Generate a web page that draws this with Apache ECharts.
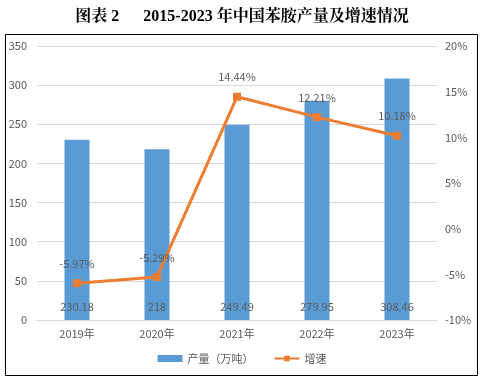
<!DOCTYPE html>
<html><head><meta charset="utf-8">
<script src="https://cdn.jsdelivr.net/npm/echarts@6/dist/echarts.min.js"></script>
<style>html,body{margin:0;padding:0;background:#fff}#c{width:484px;height:380px}</style>
</head><body><div id="c"></div>
<script>
var categories = ['2019年','2020年','2021年','2022年','2023年'];
var output = [230.18, 218, 249.49, 279.95, 308.46];
var growth = [-5.97, -5.29, 14.44, 12.21, 10.18];
var leftTicks = [0, 350, 50];
var rightTicks = [-10, 20, 5];

var font = '"Noto Sans CJK SC", "DejaVu Sans", sans-serif';
var chart = echarts.init(document.getElementById('c'), null, {renderer:'canvas'});
chart.setOption({
  animation:false,
  backgroundColor:'#fff',
  title:{
    text:'图表 2      2015-2023 年中国苯胺产量及增速情况',
    left:'center', top:4,
    textStyle:{fontFamily:'"Liberation Serif", "Noto Serif CJK SC", "Noto Sans CJK SC", serif', fontWeight:'bold', fontSize:16, color:'#000'}
  },
  graphic:[{type:'rect', shape:{x:5.5,y:34.5,width:472,height:341}, style:{fill:'none', stroke:'#000', lineWidth:1}, silent:true}],
  grid:{left:37, right:47, top:46, bottom:60},
  legend:{
    bottom:11, left:'center', itemGap:20,
    textStyle:{fontFamily:font, fontSize:11, color:'#595959'},
    data:[{name:'产量（万吨）', icon:'rect'},{name:'增速'}],
    itemWidth:25, itemHeight:7
  },
  xAxis:{
    type:'category', data:categories,
    axisLine:{lineStyle:{color:'#d9d9d9'}}, axisTick:{show:false},
    axisLabel:{fontFamily:font, fontSize:11, color:'#595959', margin:8}
  },
  yAxis:[{
    type:'value', min:leftTicks[0], max:leftTicks[1], interval:leftTicks[2],
    axisLine:{show:false}, axisTick:{show:false},
    splitLine:{lineStyle:{color:'#d9d9d9'}},
    axisLabel:{fontFamily:font, fontSize:11, color:'#595959', margin:10}
  },{
    type:'value', min:rightTicks[0], max:rightTicks[1], interval:rightTicks[2],
    axisLine:{show:false}, axisTick:{show:false}, splitLine:{show:false},
    axisLabel:{fontFamily:font, fontSize:11, color:'#595959', margin:8, formatter:'{value}%'}
  }],
  series:[{
    name:'产量（万吨）', type:'bar', data:output, barWidth:25,
    itemStyle:{color:'#5B9BD5'},
    label:{show:true, position:'insideBottom', distance:8, fontFamily:font, fontSize:11, color:'#595959'}
  },{
    name:'增速', type:'line', yAxisIndex:1, data:growth,
    symbol:'rect', symbolSize:8,
    lineStyle:{color:'#ED7D31', width:3}, itemStyle:{color:'#ED7D31'},
    label:{show:true, position:'top', distance:10, fontFamily:font, fontSize:11, color:'#595959', formatter:function(p){return p.value.toFixed(2)+'%';}}
  }]
});
</script></body></html>
